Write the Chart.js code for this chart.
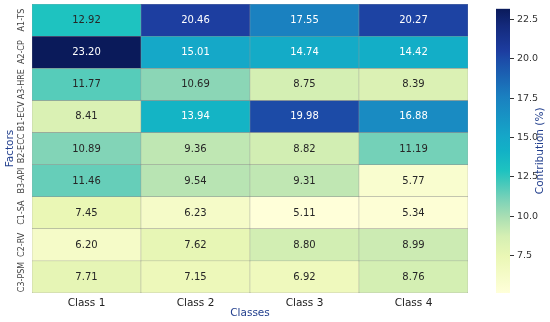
<!DOCTYPE html>
<html><head><meta charset="utf-8">
<script src="https://cdn.jsdelivr.net/npm/chart.js@4.4.1/dist/chart.umd.min.js"></script>
<style>
html,body{margin:0;padding:0;background:#fff;}
#wrap{position:relative;width:550px;height:322px;overflow:hidden;}
#main{position:absolute;left:0;top:0;}
#cb{position:absolute;left:480px;top:0;}
</style></head><body>
<div id="wrap"><canvas id="main" width="480" height="322"></canvas><canvas id="cb" width="70" height="322"></canvas></div>
<script>
const classes = ['Class 1', 'Class 2', 'Class 3', 'Class 4'];
const factors = ['A1-TS', 'A2-CP', 'A3-HRE', 'B1-ECV', 'B2-ECC', 'B3-API', 'C1-SA', 'C2-RV', 'C3-PSM'];
const class1 = [12.92, 23.20, 11.77, 8.41, 10.89, 11.46, 7.45, 6.20, 7.71];
const class2 = [20.46, 15.01, 10.69, 13.94, 9.36, 9.54, 6.23, 7.62, 7.15];
const class3 = [17.55, 14.74, 8.75, 19.98, 8.82, 9.31, 5.11, 8.80, 6.92];
const class4 = [20.27, 14.42, 8.39, 16.88, 11.19, 5.77, 5.34, 8.99, 8.76];
const colorbarTicks = [7.5, 10.0, 12.5, 15.0, 17.5, 20.0, 22.5];
const xTitle = 'Classes';
const yTitle = 'Factors';
const cbTitle = 'Contribution (%)';

const columns = [class1, class2, class3, class4];
const allVals = columns.flat();
const vmin = Math.min(...allVals), vmax = Math.max(...allVals);

// YlGnBu-like colour stops (position 0..1, colour), tuned to the reference rendering
const cmapStops = [
  [0.00, '#ffffd9'], [0.13, '#eaf7b5'], [0.20, '#d5efb3'], [0.27, '#a8deb3'],
  [0.33, '#7ad2b8'], [0.39, '#42c8bb'], [0.43, '#1ec3c0'], [0.50, '#12b1c6'],
  [0.55, '#15a7c8'], [0.69, '#1a80c0'], [0.82, '#1c4ca8'], [0.85, '#1d3da0'],
  [0.94, '#142a7c'], [1.00, '#0a1a5a']
];
function hex2rgb(h){return [parseInt(h.slice(1,3),16),parseInt(h.slice(3,5),16),parseInt(h.slice(5,7),16)];}
const stopsRGB = cmapStops.map(s => [s[0], hex2rgb(s[1])]);
function cmapRGB(v){
  let t = (v - vmin) / (vmax - vmin);
  t = Math.max(0, Math.min(1, t));
  for (let i = 0; i < stopsRGB.length - 1; i++) {
    const [t0, a] = stopsRGB[i], [t1, b] = stopsRGB[i+1];
    if (t <= t1) {
      const r = (t - t0) / (t1 - t0);
      return [0,1,2].map(k => Math.round(a[k] + (b[k]-a[k]) * r));
    }
  }
  return stopsRGB[stopsRGB.length-1][1];
}
function cmap(v){const c = cmapRGB(v); return 'rgb(' + c.join(',') + ')';}
function lum(c){
  const l = c.map(x => {x /= 255; return x <= 0.03928 ? x/12.92 : Math.pow((x+0.055)/1.055, 2.4);});
  return 0.2126*l[0] + 0.7152*l[1] + 0.0722*l[2];
}
function textColor(v){return lum(cmapRGB(v)) > 0.408 ? '#262626' : '#ffffff';}

const navy = '#23408e';
const FONT = '"DejaVu Sans", sans-serif';

const datasets = factors.map((f, r) => {
  const vals = columns.map(col => col[r]);
  return {
    label: f,
    values: vals,
    data: vals.map(() => [r, r + 1]),
    backgroundColor: vals.map(cmap),
    borderColor: '#8c8c8c',
    borderWidth: 0.5,
    borderSkipped: false,
    barPercentage: 1,
    categoryPercentage: 1
  };
});

const cellLabels = {
  id: 'cellLabels',
  afterDatasetsDraw(chart){
    const ctx = chart.ctx;
    ctx.save();
    ctx.font = '10px ' + FONT;
    ctx.textAlign = 'center';
    ctx.textBaseline = 'middle';
    chart.data.datasets.forEach((ds, di) => {
      chart.getDatasetMeta(di).data.forEach((el, ci) => {
        const v = ds.values[ci];
        const p = el.getCenterPoint();
        ctx.fillStyle = textColor(v);
        ctx.fillText(v.toFixed(2), p.x, p.y + 0.5);
      });
    });
    ctx.restore();
  }
};

new Chart(document.getElementById('main'), {
  type: 'bar',
  data: {labels: classes, datasets},
  plugins: [cellLabels],
  options: {
    responsive: false,
    animation: false,
    devicePixelRatio: 1,
    layout: {padding: {top: 4, right: 12, left: 0, bottom: 0}},
    plugins: {legend: {display: false}, tooltip: {enabled: false}},
    scales: {
      x: {
        type: 'category',
        stacked: true,
        grid: {display: false, drawTicks: false},
        border: {display: false},
        ticks: {color: '#222', font: {family: FONT, size: 10.5}, padding: 4},
        title: {display: true, text: xTitle, color: navy, font: {family: FONT, size: 10.5}, padding: {top: 0, bottom: 2}},
        afterFit(s){ s.height = 29; }
      },
      y: {
        type: 'linear',
        min: 0, max: factors.length,
        reverse: true,
        grid: {display: false, drawTicks: false},
        border: {display: false},
        afterBuildTicks(s){ s.ticks = factors.map((f, i) => ({value: i + 0.5})); },
        ticks: {
          color: '#444', font: {family: FONT, size: 8},
          autoSkip: false,
          minRotation: 90, maxRotation: 90,
          crossAlign: 'center', padding: -5,
          callback: (v) => factors[Math.floor(v)]
        },
        title: {display: true, text: yTitle, color: navy, font: {family: FONT, size: 10.5}, padding: {top: 4, bottom: 0}},
        afterFit(s){ s.width = 32; }
      }
    }
  }
});

const cbTitlePlugin = {
  id: 'cbTitle',
  afterDraw(chart){
    const ctx = chart.ctx, a = chart.chartArea;
    ctx.save();
    ctx.translate(60, (a.top + a.bottom) / 2);
    ctx.rotate(-Math.PI / 2);
    ctx.font = '10.5px ' + FONT;
    ctx.fillStyle = navy;
    ctx.textAlign = 'center';
    ctx.textBaseline = 'middle';
    ctx.fillText(cbTitle, 0, 0);
    ctx.restore();
  }
};

new Chart(document.getElementById('cb'), {
  type: 'bar',
  data: {
    labels: [''],
    datasets: [{
      data: [[vmin, vmax]],
      barPercentage: 1, categoryPercentage: 1,
      borderWidth: 0,
      backgroundColor(ctx){
        const a = ctx.chart.chartArea;
        if (!a) return '#ccc';
        const g = ctx.chart.ctx.createLinearGradient(0, a.bottom, 0, a.top);
        cmapStops.forEach(s => g.addColorStop(s[0], s[1]));
        return g;
      }
    }]
  },
  plugins: [cbTitlePlugin],
  options: {
    responsive: false,
    animation: false,
    devicePixelRatio: 1,
    layout: {padding: {top: 4, bottom: 29, left: 16, right: 0}},
    plugins: {legend: {display: false}, tooltip: {enabled: false}},
    scales: {
      x: {display: false},
      y: {
        position: 'right',
        min: vmin, max: vmax,
        grid: {drawOnChartArea: false, drawTicks: true, tickLength: 4, color: '#333'},
        border: {display: false},
        afterBuildTicks(s){ s.ticks = colorbarTicks.map(v => ({value: v})); },
        ticks: {color: '#333', font: {family: FONT, size: 9.5}, padding: 3, callback: v => v.toFixed(1)},
        afterFit(s){ s.width = 40; }
      }
    }
  }
});
</script>
</body></html>
